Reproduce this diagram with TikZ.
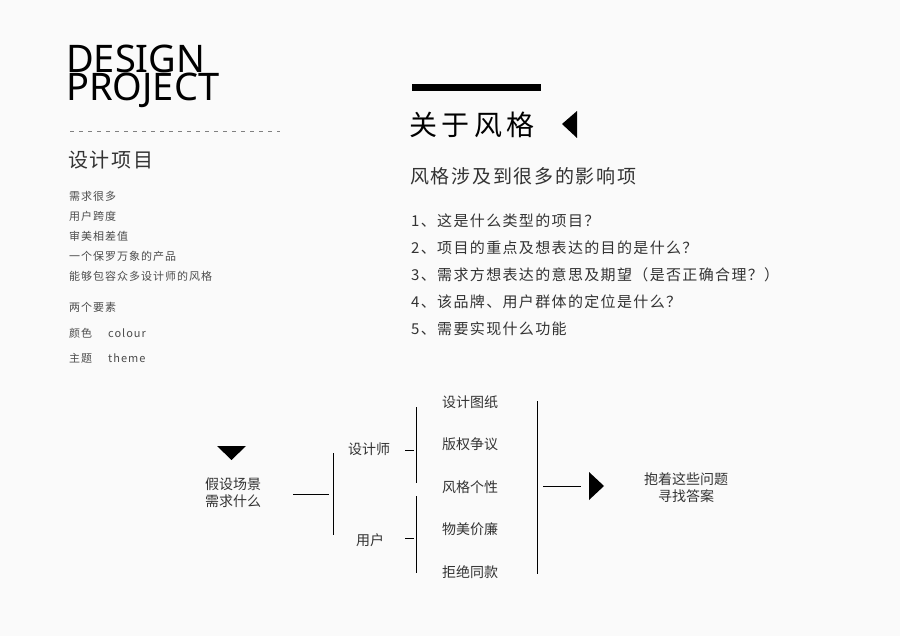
\documentclass[tikz,border=0pt]{standalone}
\usepackage{fontspec}
\setmainfont{Noto Sans CJK SC}
\newfontfamily\latn{Noto Sans}
\newfontfamily\spa[LetterSpace=16]{Noto Sans CJK SC}
\newfontfamily\spb[LetterSpace=9]{Noto Sans CJK SC}
\begin{document}
\begin{tikzpicture}[x=1pt,y=-1pt,
 txt/.style={inner sep=0pt,text=black!80},
 gtxt/.style={inner sep=0pt,text=black!70,font=\fontsize{11}{11}\spb},
 ln/.style={line width=1pt,black}]
\useasboundingbox[fill=white!98!black] (0,0) rectangle (900,636);
\node[txt,anchor=base west,text=black,font=\fontsize{38}{38}\selectfont\latn] (d) at (66,73) {DESIGN};
\node[txt,anchor=base west,text=black,font=\fontsize{38}{38}\selectfont\latn] (p) at (66,101) {PROJECT};
\draw[gray,dash pattern=on 4pt off 5pt,line width=0.7pt] (70,131) coordinate (da) -- (280,131) coordinate (db);
\node[txt,anchor=west,font=\fontsize{20}{20}\spb] (sj) at (68,160) {设计项目};
\foreach \t [count=\i] in {需求很多,用户跨度,审美相差值,一个保罗万象的产品,能够包容众多设计师的风格}
  \node[gtxt,anchor=west] (l\i) at (69,176+20*\i) {\t};
\node[gtxt,anchor=west] (ly) at (69,307) {两个要素};
\node[gtxt,anchor=west] (c1) at (69,333) {颜色};
\node[gtxt,anchor=west] (c2) at (108,333) {colour};
\node[gtxt,anchor=west] (t1) at (69,358) {主题};
\node[gtxt,anchor=west] (t2) at (108,358) {theme};
\fill[black] (412,84) rectangle (541,91);
\node[txt,anchor=west,text=black,font=\fontsize{28}{28}\spa] (gy) at (409,125) {关于风格};
\fill[black] (562,124) -- (577,111) -- (577,138) -- cycle;
\node[txt,anchor=west,font=\fontsize{19}{19}\spb] (fg) at (410,176) {风格涉及到很多的影响项};
\foreach \t [count=\i] in {1、这是什么类型的项目？,2、项目的重点及想表达的目的是什么？,3、需求方想表达的意思及期望（是否正确合理？）,4、该品牌、用户群体的定位是什么？,5、需要实现什么功能}
  \node[txt,anchor=west,font=\fontsize{15}{15}\spb] (q\i) at (411,194+27*\i) {\t};
% bottom
\fill[black] (217,446) -- (246,446) -- (231.5,460) -- cycle;
\node[txt,align=center,font=\fontsize{14}{17}\selectfont] (js) at (233,493) {假设场景\\需求什么};
\draw[ln] (293,494) -- (329,494);
\draw[ln] (333,453) -- (333,535);
\node[txt,font=\fontsize{14}{14}\selectfont] (sjs) at (369,449) {设计师};
\node[txt,font=\fontsize{14}{14}\selectfont] (yh) at (370,540) {用户};
\draw[ln] (405,450) -- (414,450);
\draw[ln] (405,538) -- (414,538);
\draw[ln] (416,407) -- (416,483);
\draw[ln] (416,496) -- (416,573);
\foreach \t [count=\i] in {设计图纸,版权争议,风格个性,物美价廉,拒绝同款}
  \node[txt,font=\fontsize{14}{14}\selectfont] (r\i) at (470,359.5+42.5*\i) {\t};
\draw[ln] (537,401) -- (537,574);
\draw[ln] (543,486) -- (581,486);
\fill[black] (589,472) -- (604,486) -- (589,500) -- cycle;
\node[txt,align=center,font=\fontsize{14}{17}\selectfont] (bz) at (686,488) {抱着这些问题\\寻找答案};
\end{tikzpicture}
\end{document}
